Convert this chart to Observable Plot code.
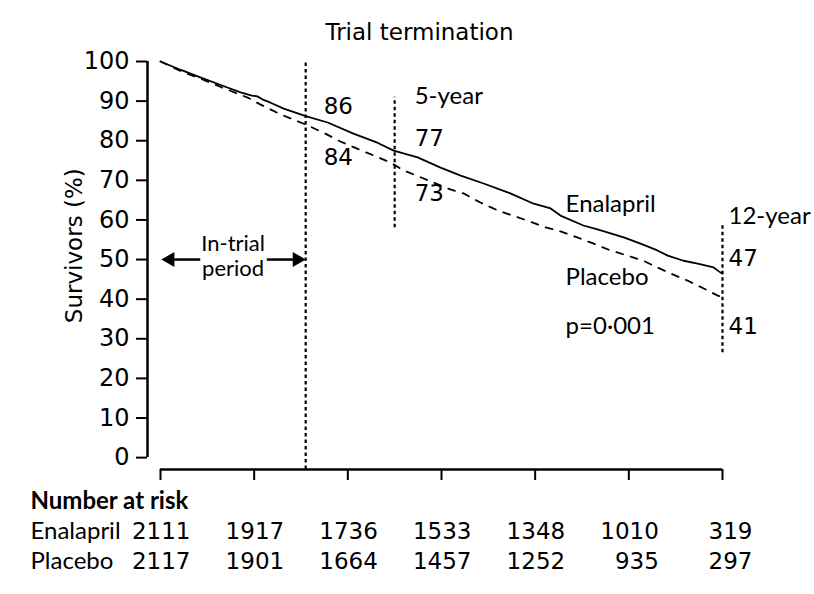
<!DOCTYPE html>
<html><head><meta charset="utf-8">
<script src="https://cdn.jsdelivr.net/npm/d3@7"></script>
<script src="https://cdn.jsdelivr.net/npm/@observablehq/plot@0.6"></script>
<style>
body{margin:0;background:#fff}
svg{font-family:Lato,sans-serif}
</style>
</head><body><div id="chart"></div>
<script>
// Kaplan-Meier curves (years, survivors %)
const enalaprilYears = [0,0.45,0.85,1.3,1.71,1.95,2.07,2.2,2.35,2.63,2.93,3.1,3.57,4.12,4.63,4.98,5.49,5.98,6.41,6.9,7.47,7.97,8.33,8.54,9.03,9.33,9.89,10.25,10.61,10.83,11.17,11.47,11.81,11.96,12];
const enalaprilSurv  = [100,97.8,96.0,94.0,92.2,91.4,91.2,90.3,89.6,88.1,86.9,86.2,84.6,81.8,79.5,77.5,75.8,73.2,71.2,69.2,66.7,64.1,62.9,61.1,58.6,57.6,55.6,54.0,52.3,51.0,49.7,49.0,48.0,46.7,46.5];
const placeboYears = [0,0.47,0.85,1.3,1.86,2.14,2.52,2.82,3.1,3.52,3.84,4.2,4.55,4.91,5.19,5.51,6.19,6.47,6.83,7.2,7.52,7.84,8.18,8.54,8.9,9.25,9.61,9.97,10.31,10.61,10.89,11.25,11.6,11.9,12];
const placeboSurv  = [100,97.4,95.7,93.5,90.9,89.1,86.9,85.4,84.1,81.8,79.8,78.0,76.3,74.5,72.5,71.0,67.7,66.7,64.4,62.4,61.1,59.8,58.3,57.1,55.6,54.0,52.3,51.0,49.7,48.0,46.5,44.7,42.7,40.9,40.5];

// Number at risk
const riskYears = [0,2,4,6,8,10,12];
const riskEnalapril = ["2111","1917","1736","1533","1348","1010","319"];
const riskPlacebo   = ["2117","1901","1664","1457","1252","935","297"];

// Y ticks
const yTicks = [0,10,20,30,40,50,60,70,80,90,100];

// reference lines: trial termination (3.1 y), 5-year, 12-year
const refLines = [
  {x: 3.1, y1: -3, y2: 100},
  {x: 5, y1: 58, y2: 91},
  {x: 12, y1: 26.5, y2: 59.3}
];

// annotations, grouped by the vertical line they sit next to
const valuesTermination = [
  {x: 3.1, y: 88.6, text: "86"},
  {x: 3.1, y: 75.8, text: "84"}
];
const valuesFiveYear = [
  {x: 5, y: 80.6, text: "77"},
  {x: 5, y: 66.7, text: "73"}
];
const valuesTwelveYear = [
  {x: 12, y: 50.3, text: "47"},
  {x: 12, y: 33.1, text: "41"}
];
const labelsCurves = [
  {x: 8.65, y: 63.9, text: "Enalapril"},
  {x: 8.65, y: 45.5, text: "Placebo"},
  {x: 8.65, y: 33.1, text: "p=0·001"}
];
const labelFiveYear = [{x: 5, y: 91.2, text: "5-year"}];
const labelTwelveYear = [{x: 12, y: 60.9, text: "12-year"}];

const enalapril = enalaprilYears.map((t, i) => ({t, s: enalaprilSurv[i]}));
const placebo = placeboYears.map((t, i) => ({t, s: placeboSurv[i]}));
const risk = riskYears.map((t, i) => ({t, e: riskEnalapril[i], p: riskPlacebo[i]}));

const pxPerYear = 575 / (12 + 13 / 46.83);
const xStart = -13 / pxPerYear;
const NUM = '"DejaVu Sans", sans-serif';
const WORD = 'Lato, sans-serif';
const numOpts = (dx) => ({x: "x", y: "y", text: "text", dx, textAnchor: "start", fontSize: 23, fontFamily: NUM});
const wordOpts = (dx) => ({x: "x", y: "y", text: "text", dx, textAnchor: "start", fontSize: 24, fontFamily: WORD});

const chart = Plot.plot({
  width: 814,
  height: 594,
  marginLeft: 147,
  marginRight: 92,
  marginTop: 61,
  marginBottom: 125,
  style: {fontFamily: WORD, fontSize: "24px", background: "#fff", color: "#000"},
  x: {domain: [xStart, 12], axis: null},
  y: {domain: [-3, 100], axis: null},
  marks: [
    // y axis
    Plot.ruleX([xStart], {y1: 0, y2: 100, strokeWidth: 2.5}),
    Plot.axisY({ticks: yTicks, tickSize: 11, tickPadding: 7, strokeWidth: 2, fontSize: 24, fontFamily: NUM, label: null, anchor: "left"}),
    Plot.text(["Survivors (%)"], {x: xStart, y: 53.5, dx: -73, rotate: -90, fontSize: 23, fontFamily: NUM}),
    // x axis
    Plot.ruleY([-3], {x1: 0, x2: 12, strokeWidth: 2.5}),
    Plot.ruleX(riskYears, {x: d => d, y1: -3, y2: -3, insetBottom: -11, strokeWidth: 2}),
    // reference lines
    Plot.ruleX(refLines, {x: "x", y1: "y1", y2: "y2", strokeWidth: 2.2, strokeDasharray: "3.5,3"}),
    // curves
    Plot.line(placebo, {x: "t", y: "s", strokeWidth: 1.8, strokeDasharray: "7,8", curve: "linear"}),
    Plot.line(enalapril, {x: "t", y: "s", strokeWidth: 1.8, curve: "linear"}),
    // in-trial arrow
    Plot.ruleY([50], {x1: 0.28, x2: 0.86, strokeWidth: 2.5}),
    Plot.ruleY([50], {x1: 2.28, x2: 2.85, strokeWidth: 2.5}),
    Plot.dot([{x: 0.02}], {x: "x", y: () => 50, symbol: "triangle", r: 5.6, rotate: -90, fill: "black", dx: 8.6}),
    Plot.dot([{x: 3.1}], {x: "x", y: () => 50, symbol: "triangle", r: 5.6, rotate: 90, fill: "black", dx: -8.6}),
    Plot.text(["In-trial\nperiod"], {x: 1.55, y: 51.1, lineHeight: 1.14, fontSize: 22, fontFamily: WORD}),
    // title
    Plot.text(["Trial termination"], {x: 5.53, y: 100, dy: -29, fontSize: 23, fontFamily: NUM}),
    // annotations
    Plot.text(valuesTermination, numOpts(18)),
    Plot.text(valuesFiveYear, numOpts(20)),
    Plot.text(valuesTwelveYear, numOpts(6)),
    Plot.text(labelsCurves, wordOpts(0)),
    Plot.text(labelFiveYear, wordOpts(20)),
    Plot.text(labelTwelveYear, wordOpts(6)),
    // number at risk
    Plot.text(["Number at risk"], {frameAnchor: "bottom-left", dx: -117, dy: 39, textAnchor: "start", fontWeight: "bold", fontSize: 24, fontFamily: WORD}),
    Plot.text(["Enalapril"], {frameAnchor: "bottom-left", dx: -117, dy: 69, textAnchor: "start", fontSize: 24, fontFamily: WORD}),
    Plot.text(["Placebo"], {frameAnchor: "bottom-left", dx: -117, dy: 99, textAnchor: "start", fontSize: 24, fontFamily: WORD}),
    Plot.text(risk, {x: "t", text: "e", frameAnchor: "bottom", dy: 69, dx: 30, textAnchor: "end", fontSize: 23, fontFamily: NUM}),
    Plot.text(risk, {x: "t", text: "p", frameAnchor: "bottom", dy: 99, dx: 30, textAnchor: "end", fontSize: 23, fontFamily: NUM})
  ]
});
document.getElementById("chart").appendChild(chart);
</script>
</body></html>
